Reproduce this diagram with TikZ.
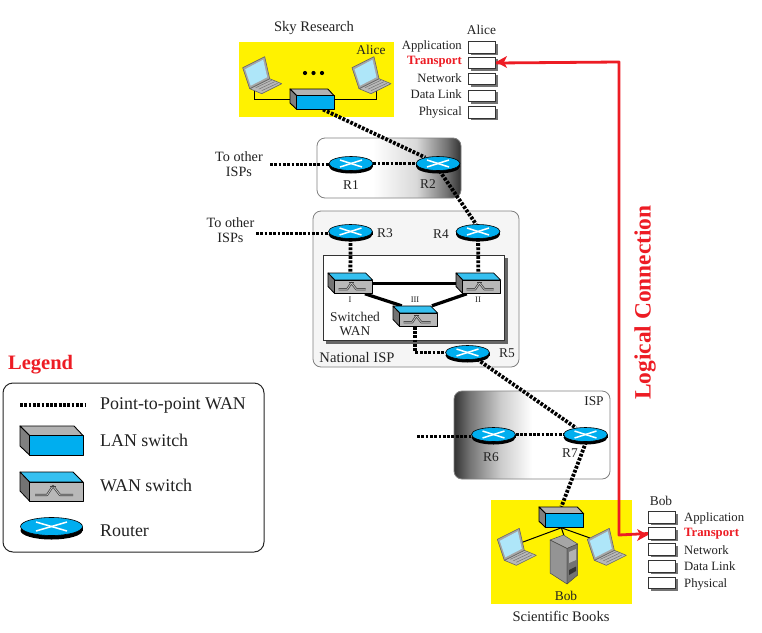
\documentclass[tikz,border=0pt]{standalone}
\usepackage{fontspec}
\setmainfont{Liberation Serif}
\usetikzlibrary{calc,shadows,shapes.geometric}
\pgfdeclarelayer{back}\pgfdeclarelayer{conn}
\pgfsetlayers{back,conn,main}
\definecolor{netblue}{HTML}{00AEEF}
\definecolor{topblue}{HTML}{35C0F0}
\definecolor{netred}{HTML}{ED1C24}
\definecolor{netyellow}{HTML}{FFF200}
\definecolor{ink}{HTML}{222222}
\pgfdeclarehorizontalshading{rightdark}{100bp}{color(0bp)=(white); color(44.5bp)=(white); color(59.5bp)=(black!15); color(70bp)=(black!55); color(75bp)=(black!80); color(100bp)=(black!80)}
\pgfdeclarehorizontalshading{leftdark}{100bp}{color(0bp)=(black!80); color(25bp)=(black!80); color(30bp)=(black!55); color(40bp)=(black!20); color(50bp)=(white); color(100bp)=(white)}
\tikzset{
  wanlink/.style={line width=3.8pt,black,dash pattern=on 2.8pt off 1.5pt},
  thinlink/.style={line width=1pt,black},
  trunk/.style={line width=3.2pt,black},
  txt/.style={inner sep=0pt,text=ink,font=\fontsize{14.6}{16}\selectfont},
  small/.style={inner sep=0pt,text=ink,font=\fontsize{13.4}{14}\selectfont},
  other/.style={inner sep=0pt,text=ink,font=\fontsize{14.2}{15}\selectfont},
  stacktxt/.style={inner sep=0pt,text=ink,font=\fontsize{12.7}{14}\selectfont},
  tiny/.style={inner sep=0pt,text=ink,font=\fontsize{8.5}{9}\selectfont},
  legtxt/.style={inner sep=0pt,anchor=west,text=ink,font=\fontsize{17.9}{20}\selectfont},
  layerbox/.style={draw=black!80,line width=1.2pt,fill=white,minimum width=27pt,minimum height=11.5pt,inner sep=0pt,
    drop shadow={shadow xshift=2pt,shadow yshift=-2pt,fill=black!55,opacity=1}},
  routernode/.style={ellipse,draw=black,line width=.6pt,fill=netblue,inner sep=0pt},
  groupbox/.style={draw=black!50,line width=.8pt,rounded corners=8pt},
  ghost/.style={inner sep=0pt,draw=none,fill=none},
  logical/.style={netred,line width=2.8pt,line join=round},
}
% name, x, y, rx, ry, depth
\newcommand{\myrouter}[6]{%
  \fill[black] (#2-#4,#3) rectangle (#2+#4,#3+#6);
  \fill[black] (#2,#3+#6) ellipse [x radius=#4pt,y radius=#5pt];
  \node[routernode,minimum width=2*#4pt,minimum height=2*#5pt] (#1) at (#2,#3) {};
  \draw[white,line width=1.5pt] (#2-#4*.5,#3-#5*.5) -- (#2+#4*.5,#3+#5*.5);
  \draw[white,line width=1.5pt] (#2-#4*.5,#3+#5*.5) -- (#2+#4*.5,#3-#5*.5);
}
% name, left, top, scale (full size 63x29)
\newcommand{\mylan}[4]{%
  \node[ghost,minimum width=#4*63pt,minimum height=#4*29pt] (#1) at (#2+#4*31.5,#3+#4*14.5) {};
  \begin{scope}[shift={(#2,#3)},scale=#4,line width=.9pt,draw=black,line join=round]
    \filldraw[fill=black!30] (0,0) -- (54,0) -- (63,9.5) -- (9.5,9.5) -- cycle;
    \filldraw[fill=black!50] (0,0) -- (9.5,9.5) -- (9.5,29) -- (0,20) -- cycle;
    \filldraw[fill=netblue] (9.5,9.5) rectangle (63,29);
  \end{scope}
}
% name, left, top, scale (full size 63x29)
\newcommand{\mywan}[4]{%
  \node[ghost,minimum width=#4*63pt,minimum height=#4*29pt] (#1) at (#2+#4*31.5,#3+#4*14.5) {};
  \begin{scope}[shift={(#2,#3)},scale=#4,line width=.8pt,draw=black,line join=round]
    \filldraw[fill=topblue] (0,0) -- (53,0) -- (63,10) -- (9.5,10) -- cycle;
    \filldraw[fill=black!55] (0,0) -- (9.5,10) -- (9.5,29) -- (0,19) -- cycle;
    \filldraw[fill=black!28] (9.5,10) rectangle (63,29);
    \draw[black!75,line width=2.2pt] (15,23) -- (27,23) -- (33,14) -- (40,23) -- (53,23);
    \draw[black!20,line width=.7pt] (15,23) -- (27,23) -- (33,14) -- (40,23) -- (53,23);
    \draw[black!75,line width=1pt] (30,14) -- (36,14);
  \end{scope}
}
\newcommand{\mylaptop}[2]{%
  \begin{scope}[shift={(#1,#2)},line width=.6pt,draw=black!60,line join=round]
    \filldraw[fill=black!28] (7,32) -- (27,22) -- (39,27) -- (19,37) -- cycle;
    \filldraw[fill=black!35] (0,11) -- (22,0) -- (27,22) -- (7,32) -- cycle;
    \fill[topblue!40] (2.5,12.5) -- (20.5,3) -- (24.5,20.5) -- (8,29) -- cycle;
    \draw[black!55,line width=.5pt] (13,31) -- (29,23.5) (16,32.5) -- (32,25) (19,34) -- (35,26.5);
  \end{scope}
}
\begin{document}
\begin{tikzpicture}[x=1pt,y=-1pt]
\useasboundingbox (0,0) rectangle (762,632);
\begin{pgfonlayer}{back}
  \fill[white] (0,0) rectangle (762,632);
  \fill[netyellow] (239,42) rectangle (394,117);
  \fill[netyellow] (491,500) rectangle (632,604);
  \path[groupbox,draw=black!50,shading=rightdark] (317,138) rectangle (461,198);
  \draw[groupbox,fill=black!4] (313,211) rectangle (519,367);
  \fill[black!60] (326,258) rectangle (507.5,343.5);
  \draw[black!80,fill=white,line width=.9pt] (323,255) rectangle (504,340);
  \path[groupbox,draw=black!50,shading=leftdark] (454,391) rectangle (610,479);
\end{pgfonlayer}

% routers and switches
\myrouter{R1}{351}{163.5}{22}{7}{3}
\myrouter{R2}{438}{163.5}{22}{7}{3}
\myrouter{R3}{350.5}{231.5}{22}{7}{3}
\myrouter{R4}{478}{231.5}{22}{7}{3}
\myrouter{R5}{467.5}{352.5}{22}{7}{3}
\myrouter{R6}{493.5}{434.5}{22}{7}{3}
\myrouter{R7}{585.5}{434.5}{22}{7}{3}
\mylan{S1}{290}{89}{.7}
\mylan{S2}{539}{507}{.71}
\mywan{WI}{328}{273}{.71}
\mywan{WII}{456}{273}{.71}
\mywan{WIII}{393}{306}{.71}

% hosts
\mylaptop{242.7}{56.7}
\mylaptop{352}{56.7}
\mylaptop{497.3}{528.3}
\mylaptop{587.3}{528.3}
\coordinate (LA) at (254,88); \coordinate (LB) at (376,88);
\coordinate (LC) at (523,542); \coordinate (LD) at (590,538);
\foreach \d in {305,313.5,322}{\fill[black] (\d,73) circle (2.1pt);}
% server
\begin{scope}[line width=.5pt,draw=black!70,line join=round]
  \filldraw[fill=black!35] (550,540) -- (563.5,535) -- (577.7,544) -- (567,548.5) -- cycle;
  \filldraw[fill=black!42] (550,540) -- (567,548.5) -- (567,584) -- (550,573) -- cycle;
  \filldraw[fill=black!55] (567,548.5) -- (577.7,544) -- (577.7,575) -- (567,584) -- cycle;
  \fill[black!30] (569,552) -- (576,549) -- (576,560) -- (569,563) -- cycle;
  \fill[black!80] (569,570) -- (576,566.5) -- (576,571) -- (569,575) -- cycle;
\end{scope}
\node[ghost,minimum width=27pt,minimum height=48pt] (SRV) at (564,560) {};

% protocol stacks
\node[layerbox] (AA) at (482,47.5) {};
\node[layerbox] (AT) at (482,63) {};
\node[layerbox] (AN) at (482,79) {};
\node[layerbox] (AD) at (482,96) {};
\node[layerbox] (AP) at (482,112.5) {};
\node[layerbox] (BA) at (662,517.5) {};
\node[layerbox] (BT) at (662,533.5) {};
\node[layerbox] (BN) at (662,549.5) {};
\node[layerbox] (BD) at (662,566.5) {};
\node[layerbox] (BP) at (662,583) {};

% free ends
\coordinate (o1) at (270,164.5);
\coordinate (o2) at (256,233.5);
\coordinate (o3) at (417,436.5);
\coordinate (lp1) at (20,405);
\coordinate (lp2) at (85,405);
\coordinate (c1) at (619,62);
\coordinate (c2) at (619,535);

\begin{pgfonlayer}{conn}
  \draw[wanlink] (o1) -- (R1.west |- o1);
  \draw[wanlink] (R1) -- (R2);
  \draw[wanlink] ($(S1.south)+(11,0)$) -- (R2);
  \draw[wanlink] (R2.-78) -- (R4.105);
  \draw[wanlink] (o2) -- (R3.west |- o2);
  \draw[wanlink] (R3) -- (WI.north);
  \draw[wanlink] (R4) -- (WII.north);
  \draw[wanlink] (WIII.south) |- (R5.west);
  \draw[wanlink] (R5) -- (R7);
  \draw[wanlink] (o3) -- (R6.west |- o3);
  \draw[wanlink] (R6) -- (R7);
  \draw[wanlink] (R7.-85) -- (S2.north);
  \draw[trunk] (WI.east) -- (WII.west);
  \draw[trunk] ($(WI.south east)+(-8,0)$) -- ($(WIII.north west)+(9,0)$);
  \draw[trunk] ($(WII.south west)+(11,0)$) -- ($(WIII.north east)+(-6,0)$);
  \draw[thinlink] (LA) |- ($(S1.west)+(0,0.5)$);
  \draw[thinlink] (LB) |- ($(S1.east)+(0,0.5)$);
  \draw[thinlink] (S2.south) -- (LC);
  \draw[thinlink] (S2.south) -- (LD);
  \draw[thinlink] (S2.south) -- (SRV.north);
\end{pgfonlayer}

% logical connection
\draw[logical] (AT.east) -- (c1) -- (c2) -- (BT.west);
\fill[netred] (496,62) -- (507,56) -- (504,62) -- (507,68) -- cycle;
\fill[netred] (648,535) -- (637,529) -- (640,535) -- (637,541) -- cycle;

% legend
\node[inner sep=0pt,anchor=west,text=netred,font=\bfseries\fontsize{20.5}{22}\selectfont] (legendt) at (8,365) {Legend};
\draw[black!85,line width=1pt,rounded corners=10pt] (3,383) rectangle (264,552);
\draw[wanlink] (lp1) -- (lp2);
\mylan{LS}{20}{426}{1}
\mywan{LW}{20}{472}{1}
\myrouter{LR}{51.5}{526.5}{31}{9}{4}
\node[legtxt] (t1) at (100,405) {Point-to-point WAN};
\node[legtxt] (t2) at (100,440) {LAN switch};
\node[legtxt] (t3) at (100,485) {WAN switch};
\node[legtxt] (t4) at (100,531) {Router};

% labels
\node[txt] (skyl) at (314,28) {Sky Research};
\node[small] (al1) at (481.5,30) {Alice};
\node[small] (al2) at (371,50) {Alice};
\node[stacktxt,anchor=east] (la) at (462,46) {Application};
\node[stacktxt,anchor=east,text=netred,font=\bfseries\fontsize{12.7}{14}\selectfont] (lb) at (462,62) {Transport};
\node[stacktxt,anchor=east] (lc) at (462,78) {Network};
\node[stacktxt,anchor=east] (ld) at (462,94) {Data Link};
\node[stacktxt,anchor=east] (le) at (462,112) {Physical};
\node[small] (bob1) at (661,501) {Bob};
\node[stacktxt,anchor=west] (ra) at (684,518) {Application};
\node[stacktxt,anchor=west,text=netred,font=\bfseries\fontsize{12.7}{14}\selectfont] (rb) at (684,534) {Transport};
\node[stacktxt,anchor=west] (rc) at (684,550) {Network};
\node[stacktxt,anchor=west] (rd) at (684,566) {Data Link};
\node[stacktxt,anchor=west] (re) at (684,584) {Physical};
\node[other,align=center] (isp1) at (239,164) {To other\\ISPs};
\node[other,align=center] (isp2) at (230.5,230.5) {To other\\ISPs};
\node[small] (r1t) at (351,185) {R1};
\node[small] (r2t) at (428,184) {R2};
\node[small] (r3t) at (385,233) {R3};
\node[small] (r4t) at (441,234) {R4};
\node[small] (r5t) at (507,353) {R5};
\node[small] (r6t) at (491,457) {R6};
\node[small] (r7t) at (570,453) {R7};
\node[small] (ispt) at (594,401) {ISP};
\node[txt] (nat) at (357,357) {National ISP};
\node[small,align=center] (swt) at (355,323.5) {Switched\\WAN};
\node[tiny] (ti) at (350,300) {I};
\node[tiny] (tii) at (478,300) {II};
\node[tiny] (tiii) at (415,300) {III};
\node[small] (bob2) at (566,596) {Bob};
\node[txt] (sci) at (561,616) {Scientific Books};
\node[inner sep=0pt,rotate=90,text=netred,font=\bfseries\fontsize{23.4}{25}\selectfont] (lc2) at (645,302.5) {Logical Connection};
\end{tikzpicture}
\end{document}
